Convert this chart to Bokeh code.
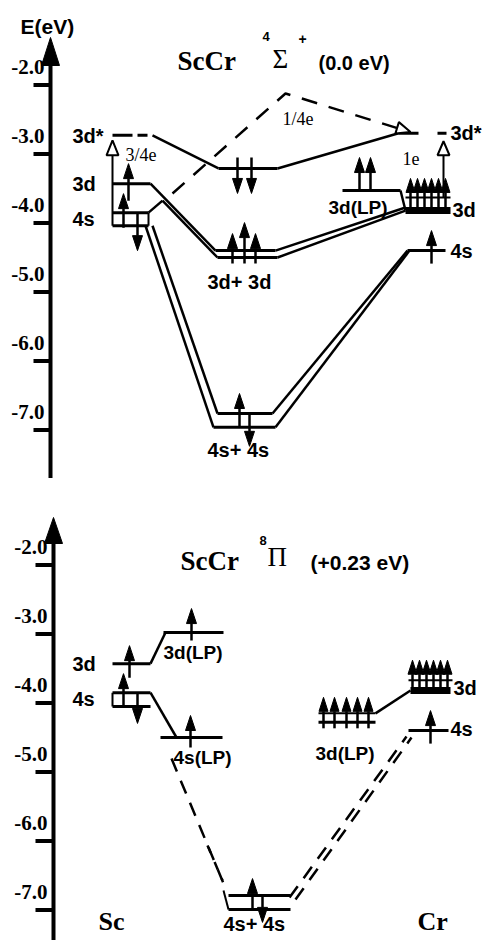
import math
from bokeh.plotting import figure
from bokeh.layouts import column
from bokeh.models import Range1d
from bokeh.core.properties import value
from bokeh.embed import file_html
from bokeh.resources import INLINE

# ---------------- data (orbital energies in eV) ----------------
tick_values = [-2.0, -3.0, -4.0, -5.0, -6.0, -7.0]
tick_labels = ["-2.0", "-3.0", "-4.0", "-5.0", "-6.0", "-7.0"]

# upper panel: ScCr 4Sigma+ (0.0 eV)
top_sc_names = ["3d*", "3d", "4s (upper)", "4s (lower)"]
top_sc_E = [-2.73, -3.43, -3.85, -4.04]
top_mo_names = ["3d*", "3d+3d (a)", "3d+3d (b)", "4s+4s (a)", "4s+4s (b)"]
top_mo_E = [-3.21, -4.40, -4.50, -6.76, -6.96]
top_cr_names = ["3d*", "3d(LP)", "3d (top)", "3d (bottom)", "4s"]
top_cr_E = [-2.70, -3.53, -3.63, -3.82, -4.40]
top_transfer = ["3/4e", "1/4e", "1e"]

# lower panel: ScCr 8Pi (+0.23 eV)
bot_sc_names = ["3d(LP)", "3d", "4s (upper)", "4s (lower)", "4s(LP)"]
bot_sc_E = [-2.98, -3.43, -3.85, -4.05, -4.50]
bot_mo_names = ["4s+4s (a)", "4s+4s (b)"]
bot_mo_E = [-6.79, -6.99]
bot_cr_names = ["3d (top)", "3d (bottom)", "3d(LP) (top)", "3d(LP) (bottom)", "4s"]
bot_cr_E = [-3.67, -3.82, -4.15, -4.28, -4.40]

# ---------------- layout ----------------
PX = 69.03          # pixels per eV
SANS = "Liberation Sans"
SERIF = "Liberation Serif"
W = 491


class Panel:
    def __init__(self, height, top_px, ref_px):
        self.top_px = top_px
        self.e_top = -4.5 + (ref_px - top_px) / PX
        p = figure(width=W, height=height, x_range=Range1d(0, W),
                   y_range=Range1d(self.e_top - height / PX, self.e_top),
                   output_backend="svg", toolbar_location=None,
                   x_axis_location=None, y_axis_location=None,
                   min_border=0, tools="")
        p.grid.visible = False
        p.outline_line_color = None
        p.background_fill_color = "white"
        p.border_fill_color = "white"
        self.p = p
        self.segs = {}
        self.fill_xs, self.fill_ys = [], []
        self.open_xs, self.open_ys = [], []
        self.texts = {}
        self.polys = []

    def e(self, ypx):
        return self.e_top - (ypx - self.top_px) / PX

    def px(self, en):
        return self.top_px + (self.e_top - en) * PX

    def line(self, x0, y0, x1, y1, w=2.5, dash="solid"):
        s = self.segs.setdefault((w, dash), ([], [], [], []))
        s[0].append(x0); s[1].append(y0); s[2].append(x1); s[3].append(y1)

    def level(self, xa, xb, en, w=3):
        self.line(xa, en, xb, en, w=w)

    def arrow(self, x, e_from, e_to, hw=5, hl=15, w=2.5):
        sgn = 1 if e_to > e_from else -1
        base = e_to - sgn * hl / PX
        self.line(x, e_from, x, base, w=w)
        self.fill_xs.append([x - hw, x + hw, x])
        self.fill_ys.append([base, base, e_to])

    def open_tri(self, tip_x, tip_ypx, ux, uy, length=14, half=6):
        bx, by = tip_x - length * ux, tip_ypx - length * uy
        ox, oy = -uy * half, ux * half
        xs = [tip_x, bx + ox, bx - ox]
        ys = [tip_ypx, by + oy, by - oy]
        self.open_xs.append(xs)
        self.open_ys.append([self.e(v) for v in ys])

    def text(self, x, y, s, font=SANS, size=20, style="bold", align="left"):
        t = self.texts.setdefault((font, size, style, align), ([], [], []))
        t[0].append(x); t[1].append(y); t[2].append(s)

    def axis(self, x, tip_px, base_px, bottom_px, tick_x0, label_x):
        self.line(x, self.e(base_px), x, self.e(bottom_px), w=4)
        self.fill_xs.append([x - 9, x + 9, x])
        self.fill_ys.append([self.e(base_px), self.e(base_px), self.e(tip_px)])
        for tv, tl in zip(tick_values, tick_labels):
            self.line(tick_x0, tv, x, tv, w=4)
            self.text(label_x, tv + 18 / PX, tl, font=SERIF, size=21, align="right")

    def finish(self):
        p = self.p
        for xs, ys, dash, w in self.polys:
            p.line(xs, ys, line_dash=dash, line_width=w, line_color="black")
        for (w, dash), (x0, y0, x1, y1) in self.segs.items():
            p.segment(x0=x0, y0=y0, x1=x1, y1=y1, line_width=w,
                      line_dash=dash, line_color="black")
        if self.fill_xs:
            p.patches(self.fill_xs, self.fill_ys, fill_color="black",
                      line_color="black", line_width=1)
        if self.open_xs:
            p.patches(self.open_xs, self.open_ys, fill_color="white",
                      line_color="black", line_width=2)
        for (font, size, style, align), (xs, ys, ss) in self.texts.items():
            p.text(x=xs, y=ys, text=ss, text_font=value(font),
                   text_font_size=f"{size}px", text_font_style=style,
                   text_align=align, text_baseline="middle", text_color="black")
        return p


def d(px):
    return px / PX


# ======================= upper panel =======================
T = Panel(478, 0, 257)
S3s, S3, S4u, S4l = top_sc_E
M3s, M33u, M33l, M44u, M44l = top_mo_E
C3s, CLP, C3u, C3l, C4 = top_cr_E

T.axis(50, 37, 65, 478, 33, 44)
T.text(20, T.e(26), "E(eV)", size=21)

# Sc levels
T.level(112, 150, S3)
T.level(112, 148, S4u)
T.level(112, 148, S4l)
T.line(148, S4l, 148, S4u, w=2)
T.level(112, 132, S3s)
T.level(137, 147, S3s)
T.line(112, S4l, 112, S3s - d(20), w=2)
T.open_tri(112, T.px(S3s) + 5, 0, -1, length=15, half=6)

# molecular levels
T.level(218, 277, M3s)
T.level(215, 275, M33u)
T.level(217, 277, M33l)
T.level(217, 272, M44u)
T.level(213, 275, M44l)

# Cr levels
T.level(398, 418, C3s)
T.level(437, 446, C3s)
T.level(342, 400, CLP)
T.level(405, 450, C3u, w=2)
T.level(405, 450, C3l, w=7)
T.level(407, 445, C4)
T.line(443, C3u, 443, C3s - d(22), w=2)
T.open_tri(443, T.px(C3s) + 8, 0, -1, length=14, half=6)

# correlation lines
T.line(152, S3s, 218, M3s)
T.line(277, M3s, 398, C3s)
T.line(150, S3, 215, M33u)
T.line(148, S4u, 162, S4u + d(12))
T.line(162, S4u + d(12), 217, M33l)
T.line(275, M33u, 405, C3l + d(3))
T.line(277, M33l, 405, C3l)
T.line(400, CLP, 405, C3l)
T.line(145, S4l, 213, M44l)
T.line(152, S4l, 217, M44u)
T.line(272, M44u, 407, C4)
T.line(275, M44l, 409, C4)

# 1/4e dashed transfer
T.polys.append(([172, 285, 398], [T.e(193), T.e(93), T.e(128)], "16 12", 2.5))
ux, uy = 113 / math.hypot(113, 35), 35 / math.hypot(113, 35)
T.open_tri(410, 131.5, ux, uy, length=14, half=6)

# electrons
T.arrow(128, S3 - d(17), S3 + d(20))
T.arrow(123, S4l - d(2), S4u + d(19))
T.arrow(137, S4u, S4u - d(38))
for x in (237, 251):
    T.arrow(x, M3s + d(11), M3s - d(25))
T.arrow(232, M33l - d(6), M33u + d(17))
T.arrow(244, M33l - d(6), M33u + d(28))
T.arrow(255, M33l - d(6), M33u + d(17))
T.arrow(239, M44l, M44u + d(20))
T.arrow(249, M44u, M44l - d(19))
for x in (359, 370):
    T.arrow(x, CLP, CLP + d(33))
for x in (410, 417, 424, 431, 438, 445):
    T.arrow(x, C3l - d(3), C3u + d(19), hw=4.5, hl=14)
T.arrow(431, C4 - d(13), C4 + d(20))

# texts
T.text(177, T.e(60), "ScCr", font=SERIF, size=27)
T.text(272, T.e(58), "Σ", font=SERIF, size=27, style="normal")
T.text(262, T.e(36), "4", size=13)
T.text(298, T.e(38), "+", size=14)
T.text(318, T.e(62), "(0.0 eV)", size=20)
T.text(72, S3s - d(1), "3d*")
T.text(72, S3, "3d")
T.text(72, S4u - d(6), "4s")
T.text(125, S3s - d(20), top_transfer[0], font=SERIF, size=18, style="normal")
T.text(282, T.e(118), top_transfer[1], font=SERIF, size=18, style="normal")
T.text(402, C3s - d(25), top_transfer[2], font=SERIF, size=18, style="normal")
T.text(450, C3s, "3d*")
T.text(328, CLP - d(17), "3d(LP)", size=19)
T.text(452, C3l + d(1), "3d")
T.text(450, C4, "4s")
T.text(207, M33l - d(24), "3d+ 3d")
T.text(207, M44l - d(23), "4s+ 4s")

# ======================= lower panel =======================
B = Panel(462, 478, 737)
bSLP3, bS3, bS4u, bS4l, bSLP4 = bot_sc_E
bM44u, bM44l = bot_mo_E
bC3u, bC3l, bCLPu, bCLPl, bC4 = bot_cr_E

B.axis(53, 517, 543, 941, 35, 47)

# Sc side
B.level(112, 150, bS3)
B.level(163, 223, bSLP3)
B.line(150, bS3, 165, bSLP3)
B.level(112, 150, bS4u)
B.level(112, 150, bS4l)
B.line(112, bS4l, 112, bS4u, w=2)
B.level(160, 222, bSLP4)
B.line(150, bS4u, 176, bSLP4)

# Sc 4s -> 4s+4s (dashed)
B.line(171, B.e(758), 226, B.e(890), dash="14 10")
B.line(207, B.e(845), 222, B.e(880), dash="8 10")
B.line(223, bM44u + d(5), 228, bM44l, w=2)

# molecular 4s+4s
B.level(228, 290, bM44u)
B.level(228, 290, bM44l)

# 4s+4s -> Cr 4s (double dashed)
B.line(289, bM44u - d(2), 406, bC4 - d(6), dash="14 10")
B.line(295, bM44u - d(4), 411, bC4 - d(7), dash="14 10")

# Cr side
B.level(318, 375, bCLPu, w=2)
B.level(318, 375, bCLPl, w=3)
B.line(375, bCLPu, 410, bC3l)
B.level(408, 452, bC3u, w=2)
B.level(410, 450, bC3l, w=7)
B.level(408, 448, bC4)

# electrons
B.arrow(129, bS3 - d(14), bS3 + d(18))
B.arrow(191, bSLP3 - d(8), bSLP3 + d(24))
B.arrow(123, bS4l, bS4u + d(19))
B.arrow(137, bS4u, bS4l - d(17))
B.arrow(190, bSLP4 - d(10), bSLP4 + d(22))
B.arrow(252, bM44l, bM44u + d(17))
B.arrow(262, bM44u, bM44l - d(13))
for x in (323, 334, 346, 357, 368):
    B.arrow(x, bCLPl - d(6), bCLPu + d(16), hw=4.5, hl=14)
for x in (412, 419, 426, 433, 440, 447):
    B.arrow(x, bC3l - d(3), bC3u + d(20), hw=4.5, hl=14)
B.arrow(430, bC4 - d(13), bC4 + d(20))

# texts
B.text(180, B.e(560), "ScCr", font=SERIF, size=27)
B.text(267, B.e(556), "Π", font=SERIF, size=27, style="normal")
B.text(259, B.e(540), "8", size=13)
B.text(310, B.e(562), "(+0.23 eV)", size=21)
B.text(72, bS3, "3d")
B.text(72, bS4u - d(6), "4s")
B.text(163, bSLP3 - d(20), "3d(LP)", size=19)
B.text(173, bSLP4 - d(20), "4s(LP)", size=19)
B.text(315, bCLPl - d(31), "3d(LP)", size=19)
B.text(453, bC3l + d(3), "3d")
B.text(450, bC4 + d(2), "4s")
B.text(223, bM44l - d(15), "4s+ 4s")
B.text(98, B.e(921), "Sc", font=SERIF, size=26)
B.text(417, B.e(921), "Cr", font=SERIF, size=26)

layout = column(T.finish(), B.finish(), spacing=0)
open("out.html", "w").write(file_html(layout, INLINE))
